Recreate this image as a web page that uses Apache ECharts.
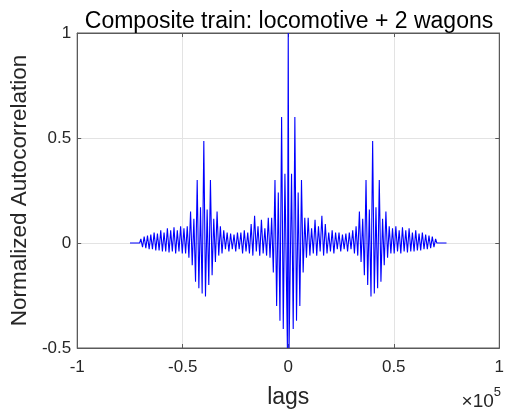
<!DOCTYPE html>
<html>
<head>
<meta charset="utf-8">
<script src="https://cdn.jsdelivr.net/npm/echarts@6/dist/echarts.min.js"></script>
<style>
html,body{margin:0;padding:0;background:#fff;}
#chart{width:507px;height:414px;}
</style>
</head>
<body>
<div id="chart"></div>
<script>
// ---- Data ----
const titleText = 'Composite train: locomotive + 2 wagons';
const xLabel = 'lags';
const yLabel = 'Normalized Autocorrelation';
const xTickVals = [-100000, -50000, 0, 50000, 100000];
const xTickLabels = ['-1', '-0.5', '0', '0.5', '1'];
const yTickVals = [-0.5, 0, 0.5, 1];
const yTickLabels = ['-0.5', '0', '0.5', '1'];
const xExponent = '5';

// negative lags (ascending) and their autocorrelation values
const lagsNeg = [-75000,-70400,
 -69830,-69045,-68260,-67475,-66690,-65905,-65120,-64335,-63550,-62765,-61980,-61195,-60410,-59625,-58840,-58055,-57270,-56485,-55700,-54915,-54130,-53345,-52560,-51775,-50990,-50205,-49420,
 -48635,-47850,-47065,-46280,-45495,-44710,-43925,-43140,-42355,-41570,-40785,-40000,-39215,-38430,-37645,-36860,-36075,-35290,-34505,-33720,-32935,-32150,
 -31370,-30560,-29750,-28940,-28120,-27310,-26500,-25690,-24880,-24060,-23250,-22440,-21630,-20820,-20000,-19190,-18380,-17570,-16760,-15940,-15130,-14320,-13500,-12700,-11880,-11070,-10250,-9450,
 -8635,-7850,-7065,-6280,-5495,-4710,-3925,-3140,-2355,-1570,-400];
const acfNeg = [0,0,
 0.02,-0.02,0.03,-0.025,0.035,-0.03,0.04,-0.03,0.05,-0.035,0.045,-0.035,0.06,-0.04,0.05,-0.04,0.07,-0.045,0.06,-0.04,0.075,-0.05,0.06,-0.04,0.08,-0.05,0.07,
 -0.05,0.08,-0.07,0.15,-0.106,0.115,-0.185,0.30,-0.216,0.17,-0.24,0.486,-0.255,0.16,-0.20,0.30,-0.153,0.115,-0.09,0.15,-0.06,0.08,
 -0.05,0.06,-0.03,0.05,-0.04,0.045,-0.03,0.04,-0.04,0.05,-0.03,0.05,-0.05,0.06,-0.04,0.05,-0.05,0.09,-0.06,0.13,-0.04,0.08,-0.06,0.11,-0.05,0.07,-0.06,0.12,
 -0.07,0.12,-0.14,0.30,-0.30,0.24,-0.37,0.60,-0.41,0.33,-0.50];

// zero and positive lags (ascending) and their values
const lagsPos = [0,400,1570,2355,3140,3925,4710,5495,6280,7065,7850,8635,
 9450,10250,11070,11880,12700,13500,14320,15130,15940,16760,17570,18380,19190,20000,20820,21630,22440,23250,24060,24880,25690,26500,27310,28120,28940,29750,30560,31370,
 32150,32935,33720,34505,35290,36075,36860,37645,38430,39215,40000,40785,41570,42355,43140,43925,44710,45495,46280,47065,47850,48635,
 49420,50205,50990,51775,52560,53345,54130,54915,55700,56485,57270,58055,58840,59625,60410,61195,61980,62765,63550,64335,65120,65905,66690,67475,68260,69045,69830,
 70400,75000];
const acfPos = [1.0,-0.50,0.33,-0.41,0.60,-0.37,0.24,-0.30,0.30,-0.14,0.12,-0.07,
 0.12,-0.06,0.07,-0.05,0.11,-0.06,0.08,-0.04,0.13,-0.06,0.09,-0.05,0.05,-0.04,0.06,-0.05,0.05,-0.03,0.05,-0.04,0.04,-0.03,0.045,-0.04,0.05,-0.03,0.06,-0.05,
 0.08,-0.06,0.15,-0.09,0.115,-0.153,0.30,-0.20,0.16,-0.255,0.486,-0.24,0.17,-0.216,0.30,-0.185,0.115,-0.106,0.15,-0.07,0.08,-0.05,
 0.07,-0.05,0.08,-0.04,0.06,-0.05,0.075,-0.04,0.06,-0.045,0.07,-0.04,0.05,-0.04,0.06,-0.035,0.045,-0.035,0.05,-0.03,0.04,-0.03,0.035,-0.025,0.03,-0.02,0.02,
 0,0];

// ---- Build ----
const lags = lagsNeg.concat(lagsPos);
const acf = acfNeg.concat(acfPos);
const seriesData = lags.map((l, i) => [l, acf[i]]);

const FONT = '"Liberation Sans", Arial, Helvetica, sans-serif';
const TXT = '#262626';
const AXC = '#5a5a5a';

function lab(vals, labels) {
  return function (v) {
    for (let i = 0; i < vals.length; i++) {
      if (Math.abs(vals[i] - v) < 1e-9 * Math.max(1, Math.abs(v))) return labels[i];
    }
    return '';
  };
}

const chart = echarts.init(document.getElementById('chart'), null, {renderer: 'canvas'});
const G = {left: 77, right: 6, top: 33, bottom: 64};

chart.setOption({
  animation: false,
  backgroundColor: '#ffffff',
  title: {
    text: titleText,
    left: 284, top: 5, textAlign: 'center',
    textStyle: {fontFamily: FONT, fontSize: 23, fontWeight: 'normal', color: '#000'}
  },
  grid: Object.assign({show: true, borderColor: AXC, borderWidth: 1, backgroundColor: '#fff'}, G),
  xAxis: [{
    type: 'value', min: -100000, max: 100000, interval: 50000,
    axisLine: {show: true, onZero: false, lineStyle: {color: AXC}},
    axisTick: {show: true, inside: true, length: 4, lineStyle: {color: AXC}},
    axisLabel: {formatter: lab(xTickVals, xTickLabels), fontFamily: FONT, fontSize: 17, color: TXT, margin: 11},
    splitLine: {show: true, lineStyle: {color: '#e3e3e3', width: 1}},
    name: xLabel, nameLocation: 'middle', nameGap: 38,
    nameTextStyle: {fontFamily: FONT, fontSize: 23, color: TXT}
  }, {
    type: 'value', position: 'top', min: -100000, max: 100000, interval: 50000,
    axisLine: {show: true, onZero: false, lineStyle: {color: AXC}},
    axisTick: {show: true, inside: true, length: 4, lineStyle: {color: AXC}},
    axisLabel: {show: false}, splitLine: {show: false}
  }],
  yAxis: [{
    type: 'value', min: -0.5, max: 1, interval: 0.5,
    axisLine: {show: true, onZero: false, lineStyle: {color: AXC}},
    axisTick: {show: true, inside: true, length: 4, lineStyle: {color: AXC}},
    axisLabel: {formatter: lab(yTickVals, yTickLabels), fontFamily: FONT, fontSize: 17, color: TXT, margin: 6},
    splitLine: {show: true, lineStyle: {color: '#e3e3e3', width: 1}},
    name: yLabel, nameLocation: 'middle', nameGap: 34, nameRotate: 90,
    nameTextStyle: {fontFamily: FONT, fontSize: 22.5, color: TXT}
  }, {
    type: 'value', position: 'right', min: -0.5, max: 1, interval: 0.5,
    axisLine: {show: true, onZero: false, lineStyle: {color: AXC}},
    axisTick: {show: true, inside: true, length: 4, lineStyle: {color: AXC}},
    axisLabel: {show: false}, splitLine: {show: false}
  }],
  graphic: [{
    type: 'text', right: 6, top: 386,
    style: {
      text: '{a|×10}{b|' + xExponent + '}',
      rich: {
        a: {fontFamily: FONT, fontSize: 19, fill: TXT, verticalAlign: 'bottom'},
        b: {fontFamily: FONT, fontSize: 13, fill: TXT, verticalAlign: 'top', padding: [0,0,12,0]}
      }
    }
  }],
  series: [{
    type: 'line', xAxisIndex: 0, yAxisIndex: 0,
    data: seriesData, showSymbol: false, symbol: 'none',
    lineStyle: {color: '#0000ff', width: 1.1}, z: 5
  }]
});
</script>
</body>
</html>
